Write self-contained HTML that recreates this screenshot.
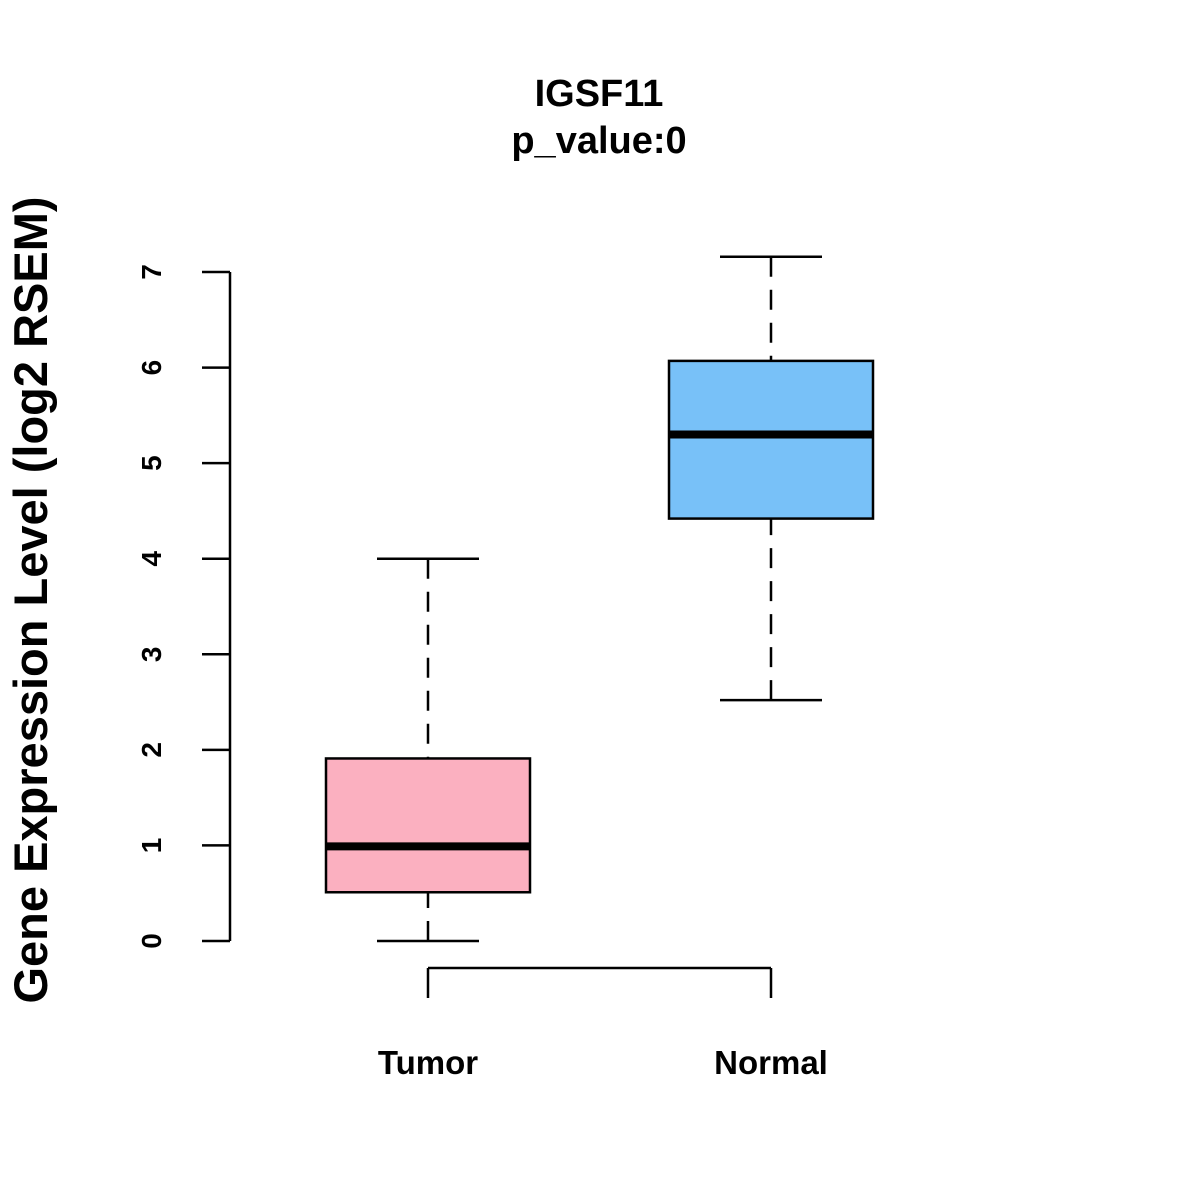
<!DOCTYPE html>
<html><head><meta charset="utf-8"><style>body{margin:0;background:#fff}svg{display:block}text{font-family:"Liberation Sans",Arial,sans-serif;font-weight:bold}</style></head>
<body>
<svg id="chart" width="1200" height="1200" viewBox="0 0 1200 1200">
<text x="599" y="106" font-size="38" text-anchor="middle">IGSF11</text>
<text x="599" y="153" font-size="38" text-anchor="middle">p_value:0</text>
<text transform="translate(47,600) rotate(-90)" font-size="47" text-anchor="middle">Gene Expression Level (log2 RSEM)</text>
<g id="yaxis"></g>
<g id="xaxis"></g>
<g id="boxes"></g>
</svg>
<script>
const categories=["Tumor","Normal"];
const whiskerLow=[0,2.52];
const q1=[0.51,4.42];
const medians=[0.99,5.30];
const q3=[1.91,6.07];
const whiskerHigh=[4.0,7.16];
const colors=["#FBB0C0","#78C1F8"];
const yTicks=[0,1,2,3,4,5,6,7];
const NS="http://www.w3.org/2000/svg";
function y(v){return 941-v*95.57;}
function x(i){return 428+i*343;}
function mk(tag,attrs,parent){const e=document.createElementNS(NS,tag);for(const k in attrs)e.setAttribute(k,attrs[k]);parent.appendChild(e);return e;}
const ya=document.getElementById('yaxis'),xa=document.getElementById('xaxis'),bx=document.getElementById('boxes');
const axLine=mk('line',{x1:230,x2:230,y1:y(yTicks[0]),y2:y(yTicks[yTicks.length-1]),stroke:'#000','stroke-width':2.5},ya);


yTicks.forEach(t=>{
  const l=mk('line',{x1:202,x2:230,y1:y(t),y2:y(t),stroke:'#000','stroke-width':2.5},ya);
  
  
  const tx=mk('text',{transform:`translate(161,${y(t)}) rotate(-90)`,'font-size':28,'text-anchor':'middle'},ya);
  tx.textContent=t;
  
  
});
const xl=mk('line',{x1:x(0),x2:x(categories.length-1),y1:968,y2:968,stroke:'#000','stroke-width':2.5},xa);


categories.forEach((c,i)=>{
  const t=mk('line',{x1:x(i),x2:x(i),y1:968,y2:998,stroke:'#000','stroke-width':2.5},xa);
  
  
  const tx=mk('text',{x:x(i),y:1074,'font-size':33,'text-anchor':'middle'},xa);
  tx.textContent=c;
  
  
  const g=mk('g',{},bx);
  
  
  const cx=x(i);
  mk('line',{x1:cx,x2:cx,y1:y(whiskerLow[i]),y2:y(q1[i]),stroke:'#000','stroke-width':2.5,'stroke-dasharray':'20,13'},g);
  mk('line',{x1:cx,x2:cx,y1:y(whiskerHigh[i]),y2:y(q3[i]),stroke:'#000','stroke-width':2.5,'stroke-dasharray':'20,13'},g);
  mk('line',{x1:cx-51,x2:cx+51,y1:y(whiskerLow[i]),y2:y(whiskerLow[i]),stroke:'#000','stroke-width':2.5},g);
  mk('line',{x1:cx-51,x2:cx+51,y1:y(whiskerHigh[i]),y2:y(whiskerHigh[i]),stroke:'#000','stroke-width':2.5},g);
  mk('rect',{x:cx-102,y:y(q3[i]),width:204,height:y(q1[i])-y(q3[i]),fill:colors[i],stroke:'#000','stroke-width':2.5},g);
  mk('line',{x1:cx-102,x2:cx+102,y1:y(medians[i]),y2:y(medians[i]),stroke:'#000','stroke-width':8},g);
});
</script>
</body></html>
